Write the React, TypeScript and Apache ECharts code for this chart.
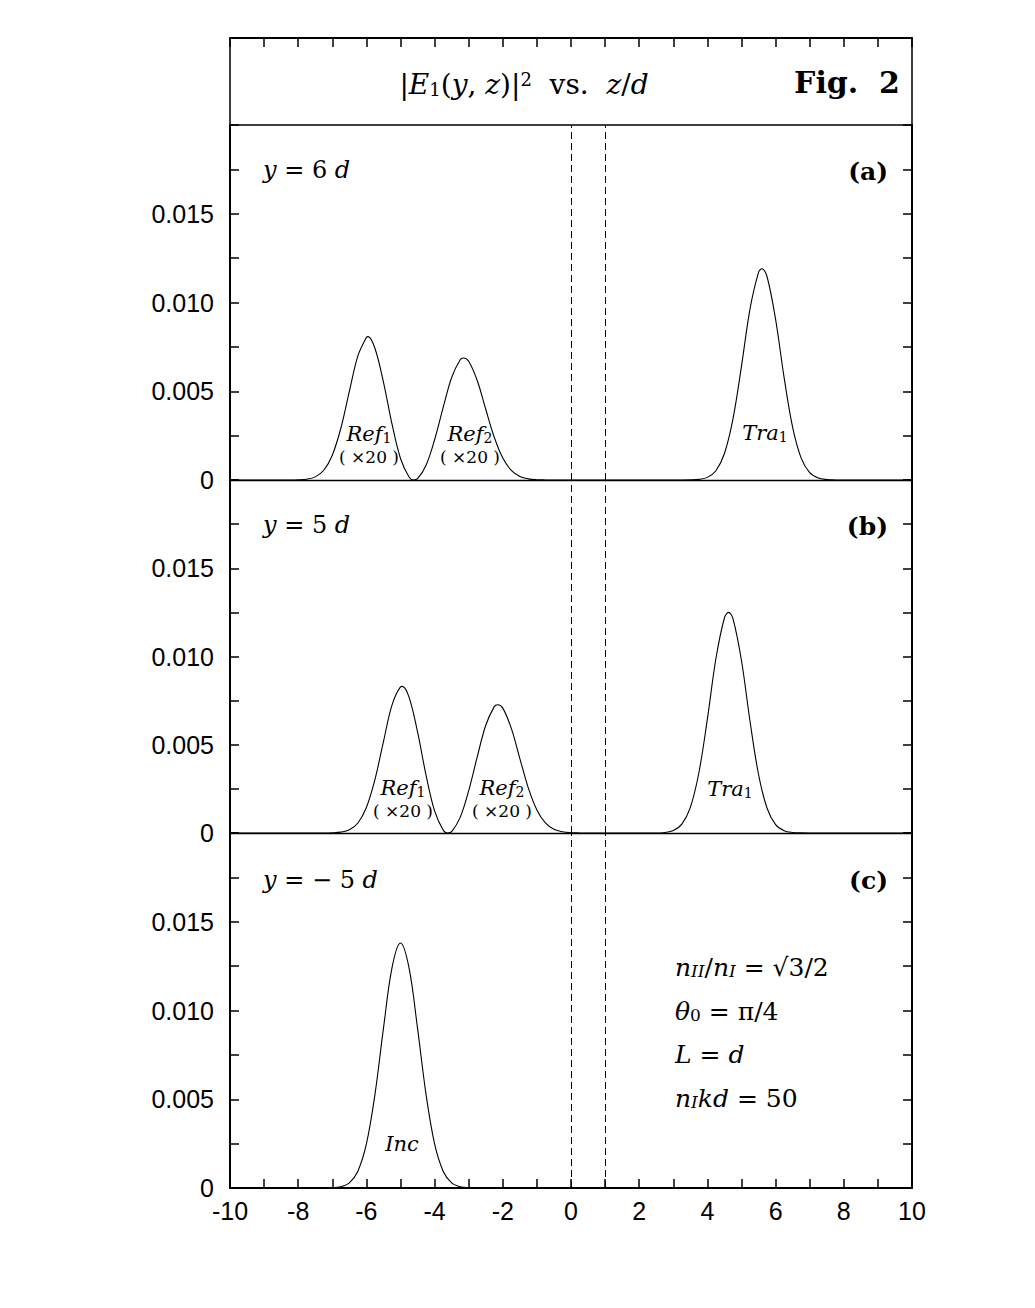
import React, { useEffect, useRef } from 'react';
import * as echarts from 'echarts';

// ---------- data ----------
const X_MIN = -10;
const X_MAX = 10;
const Y_MIN = 0;
const Y_MAX = 0.02;
const Y_STEP = 0.0025;
const X_LABELS = ['-10', '', '-8', '', '-6', '', '-4', '', '-2', '', '0', '', '2', '', '4', '', '6', '', '8', '', '10'];
const Y_LABELS = ['0', '', '0.005', '', '0.010', '', '0.015', '', ''];
const INTERFACE_LINES = [0, 1];

// panel (a): y = 6d
const zA = [-10, -8.25, -8, -7.75, -7.5, -7.25, -7, -6.75, -6.5, -6.25, -6, -5.95, -5.75, -5.5, -5.25, -5, -4.75, -4.62, -4.5, -4.25, -4, -3.75, -3.5, -3.25, -3.15, -3, -2.75, -2.5, -2.25, -2, -1.75, -1.5, -1.25, -1, -0.75, -0.5,
  3.25, 3.5, 3.75, 4, 4.25, 4.5, 4.75, 5, 5.25, 5.5, 5.6, 5.75, 6, 6.25, 6.5, 6.75, 7, 7.25, 7.5, 7.75, 8, 10];
const valA = [0, 0, 0.00001, 0.000046, 0.000176, 0.000548, 0.001396, 0.002916, 0.00499, 0.00699, 0.00803, 0.00808, 0.00742, 0.00552, 0.00316, 0.00121, 0.000165, 0.0000025, 0.000073, 0.000832, 0.002266, 0.004077, 0.005773, 0.006772, 0.006877, 0.006693, 0.005606, 0.003987, 0.002408, 0.001237, 0.00054, 0.0002, 0.000063, 0.000017, 0.000004, 0,
  0, 0.000006, 0.000034, 0.000148, 0.000523, 0.001494, 0.003447, 0.006419, 0.009646, 0.0117, 0.0119, 0.01145, 0.009045, 0.005767, 0.002968, 0.001232, 0.000413, 0.000112, 0.000024, 0.000004, 0, 0];

// panel (b): y = 5d
const zB = [-10, -7.25, -7, -6.75, -6.5, -6.25, -6, -5.75, -5.5, -5.25, -5, -4.95, -4.75, -4.5, -4.25, -4, -3.75, -3.62, -3.5, -3.25, -3, -2.75, -2.5, -2.25, -2.15, -2, -1.75, -1.5, -1.25, -1, -0.75, -0.5, -0.25, 0, 0.25, 0.5,
  2.5, 2.75, 3, 3.25, 3.5, 3.75, 4, 4.25, 4.5, 4.62, 4.75, 5, 5.25, 5.5, 5.75, 6, 6.25, 6.5, 6.75, 7, 10];
const valB = [0, 0, 0.00001, 0.000048, 0.000182, 0.000568, 0.001447, 0.003024, 0.005176, 0.007249, 0.008283, 0.008305, 0.007695, 0.005723, 0.003268, 0.001252, 0.000167, 0.000003, 0.00008, 0.000885, 0.002398, 0.004313, 0.006104, 0.00716, 0.00727, 0.007076, 0.005926, 0.004215, 0.002545, 0.001308, 0.000571, 0.000212, 0.000067, 0.000018, 0.000004, 0,
  0, 0.000031, 0.000139, 0.0005, 0.001455, 0.003414, 0.006466, 0.009885, 0.012195, 0.0125, 0.012143, 0.009759, 0.006329, 0.003314, 0.0014, 0.000477, 0.000131, 0.000029, 0.000005, 0, 0];

// panel (c): y = -5d
const zC = [-10, -7.25, -7, -6.75, -6.5, -6.25, -6, -5.75, -5.5, -5.25, -5, -4.75, -4.5, -4.25, -4, -3.75, -3.5, -3.25, -3, -2.75, 10];
const valC = [0, 0.000002, 0.000014, 0.000072, 0.000291, 0.000947, 0.00248, 0.00526, 0.00899, 0.0124, 0.0138, 0.0124, 0.00899, 0.00526, 0.00248, 0.000947, 0.000291, 0.000072, 0.000014, 0.000002, 0];

// ---------- style ----------
const SERIF = '"DejaVu Serif", "Liberation Serif", serif';
const SANS = '"Liberation Sans", Arial, Helvetica, sans-serif';
const BLACK = '#000';

const LEFT = 230;
const WIDTH = 682;
const PANELS = [
  { top: 125, height: 355 },
  { top: 480, height: 353 },
  { top: 833, height: 355 },
];

function mathRich(size: number) {
  const sub = Math.round(size * 0.66);
  const subLH = Math.round(sub * 0.55);
  return {
    i: { fontFamily: SERIF, fontStyle: 'italic', fontSize: size, lineHeight: size, fill: BLACK },
    n: { fontFamily: SERIF, fontSize: size, lineHeight: size, fill: BLACK },
    b: { fontFamily: SERIF, fontWeight: 'bold', fontSize: size, lineHeight: size, fill: BLACK },
    sub: { fontFamily: SERIF, fontSize: sub, lineHeight: subLH, verticalAlign: 'bottom', fill: BLACK },
    subi: { fontFamily: SERIF, fontStyle: 'italic', fontSize: sub, lineHeight: subLH, verticalAlign: 'bottom', fill: BLACK },
    sup: { fontFamily: SERIF, fontSize: sub, lineHeight: subLH, verticalAlign: 'top', fill: BLACK },
  };
}

function mtext(text: string, x: number, y: number, size: number, align = 'left') {
  return {
    type: 'text',
    x,
    y,
    silent: true,
    style: {
      text,
      rich: mathRich(size),
      align,
      verticalAlign: 'middle',
      fill: BLACK,
      fontFamily: SERIF,
      fontSize: size,
    },
  };
}

function btext(text: string, x: number, y: number, size: number) {
  return {
    type: 'text', x, y, silent: true,
    style: { text, align: 'right', verticalAlign: 'middle', fontFamily: SERIF, fontWeight: 'bold', fontSize: size, fill: BLACK },
  };
}

function buildOption() {
  const grids: any[] = [
    { left: LEFT, top: 38, width: WIDTH, height: 87, show: true, borderColor: BLACK, borderWidth: 1.5, backgroundColor: 'transparent' },
    ...PANELS.map((p) => ({ left: LEFT, top: p.top, width: WIDTH, height: p.height, containLabel: false })),
  ];

  const xAxes: any[] = [
    {
      gridIndex: 0, type: 'value', position: 'top', min: X_MIN, max: X_MAX, interval: 1,
      axisLine: { show: true, onZero: false, lineStyle: { color: BLACK, width: 2 } },
      axisTick: { show: true, inside: true, length: 9, lineStyle: { color: BLACK, width: 1.5 } },
      axisLabel: { show: false }, splitLine: { show: false },
    },
  ];
  PANELS.forEach((_, k) => {
    const last = k === PANELS.length - 1;
    xAxes.push({
      gridIndex: k + 1, type: 'value', position: 'bottom', min: X_MIN, max: X_MAX, interval: 1,
      axisLine: { show: true, onZero: false, lineStyle: { color: BLACK, width: last ? 2 : 1.3 } },
      axisTick: { show: last, inside: true, length: 9, lineStyle: { color: BLACK, width: 1.5 } },
      axisLabel: {
        show: last, margin: 10, color: BLACK, fontFamily: SANS, fontSize: 25,
        formatter: (v: number) => X_LABELS[Math.round(v - X_MIN)] ?? '',
      },
      splitLine: { show: false },
    });
  });

  const yAxes: any[] = [
    { gridIndex: 0, type: 'value', min: 0, max: 1, show: false },
  ];
  PANELS.forEach((_, k) => {
    ['left', 'right'].forEach((pos) => {
      yAxes.push({
        gridIndex: k + 1, type: 'value', position: pos, min: Y_MIN, max: Y_MAX, interval: Y_STEP,
        axisLine: { show: true, onZero: false, lineStyle: { color: BLACK, width: 2 } },
        axisTick: { show: true, inside: true, length: 9, lineStyle: { color: BLACK, width: 1.5 } },
        axisLabel: {
          show: pos === 'left', margin: 16, color: BLACK, fontFamily: SANS, fontSize: 25,
          formatter: (v: number) => Y_LABELS[Math.round(v / Y_STEP)] ?? '',
        },
        splitLine: { show: false },
      });
    });
  });

  const datasets = [
    [zA, valA],
    [zB, valB],
    [zC, valC],
  ];
  const series = datasets.map(([zs, vs], k) => ({
    type: 'line',
    xAxisIndex: k + 1,
    yAxisIndex: 1 + k * 2,
    data: zs.map((z, i) => [z, vs[i]]),
    showSymbol: false,
    smooth: 0.35,
    lineStyle: { color: BLACK, width: 1.1 },
    silent: true,
    markLine: {
      silent: true,
      symbol: 'none',
      label: { show: false },
      lineStyle: { color: BLACK, width: 1, type: [7, 4] },
      data: INTERFACE_LINES.map((x) => ({ xAxis: x })),
    },
  }));

  const graphic: any[] = [
    // header
    mtext('{n||}{i|E}{sub|1}{n|(}{i|y}{n|, }{i|z}{n|)|}{sup|2}{n|  vs.  }{i|z}{n|/}{i|d}', 524, 84, 28, 'center'),
    btext('Fig.  2', 900, 82, 30),
    // panel titles
    mtext('{i|y}{n| = 6 }{i|d}', 263, 170, 24),
    mtext('{i|y}{n| = 5 }{i|d}', 263, 525, 24),
    mtext('{i|y}{n| = − 5 }{i|d}', 263, 880, 24),
    btext('(a)', 888, 171, 25),
    btext('(b)', 888, 526, 25),
    btext('(c)', 888, 880, 25),
    // peak annotations (a)
    mtext('{i|Ref}{sub|1}', 369, 434, 21, 'center'),
    mtext('{n|( ×20 )}', 369, 457, 17, 'center'),
    mtext('{i|Ref}{sub|2}', 470, 434, 21, 'center'),
    mtext('{n|( ×20 )}', 470, 457, 17, 'center'),
    mtext('{i|Tra}{sub|1}', 765, 433, 21, 'center'),
    // (b)
    mtext('{i|Ref}{sub|1}', 403, 788, 21, 'center'),
    mtext('{n|( ×20 )}', 403, 811, 17, 'center'),
    mtext('{i|Ref}{sub|2}', 502, 788, 21, 'center'),
    mtext('{n|( ×20 )}', 502, 811, 17, 'center'),
    mtext('{i|Tra}{sub|1}', 730, 789, 21, 'center'),
    // (c)
    mtext('{i|Inc}', 402, 1144, 21, 'center'),
    mtext('{i|n}{subi|II}{n|/}{i|n}{subi|I}{n| = √3/2}', 675, 967, 25),
    mtext('{i|θ}{sub|0}{n| = π/4}', 675, 1011, 25),
    mtext('{i|L}{n| = }{i|d}', 675, 1054, 25),
    mtext('{i|n}{subi|I}{i|kd}{n| = 50}', 675, 1098, 25),
  ];

  return {
    animation: false,
    backgroundColor: '#fff',
    grid: grids,
    xAxis: xAxes,
    yAxis: yAxes,
    series,
    graphic,
  };
}

export default function App() {
  const ref = useRef<HTMLDivElement>(null);
  useEffect(() => {
    if (!ref.current) return;
    const chart = echarts.init(ref.current, undefined, { renderer: 'svg' });
    chart.setOption(buildOption() as any);
    return () => chart.dispose();
  }, []);
  return (
    <div
      ref={ref}
      style={{ position: 'absolute', left: 0, top: 0, width: 1035, height: 1308, background: '#fff' }}
    />
  );
}
